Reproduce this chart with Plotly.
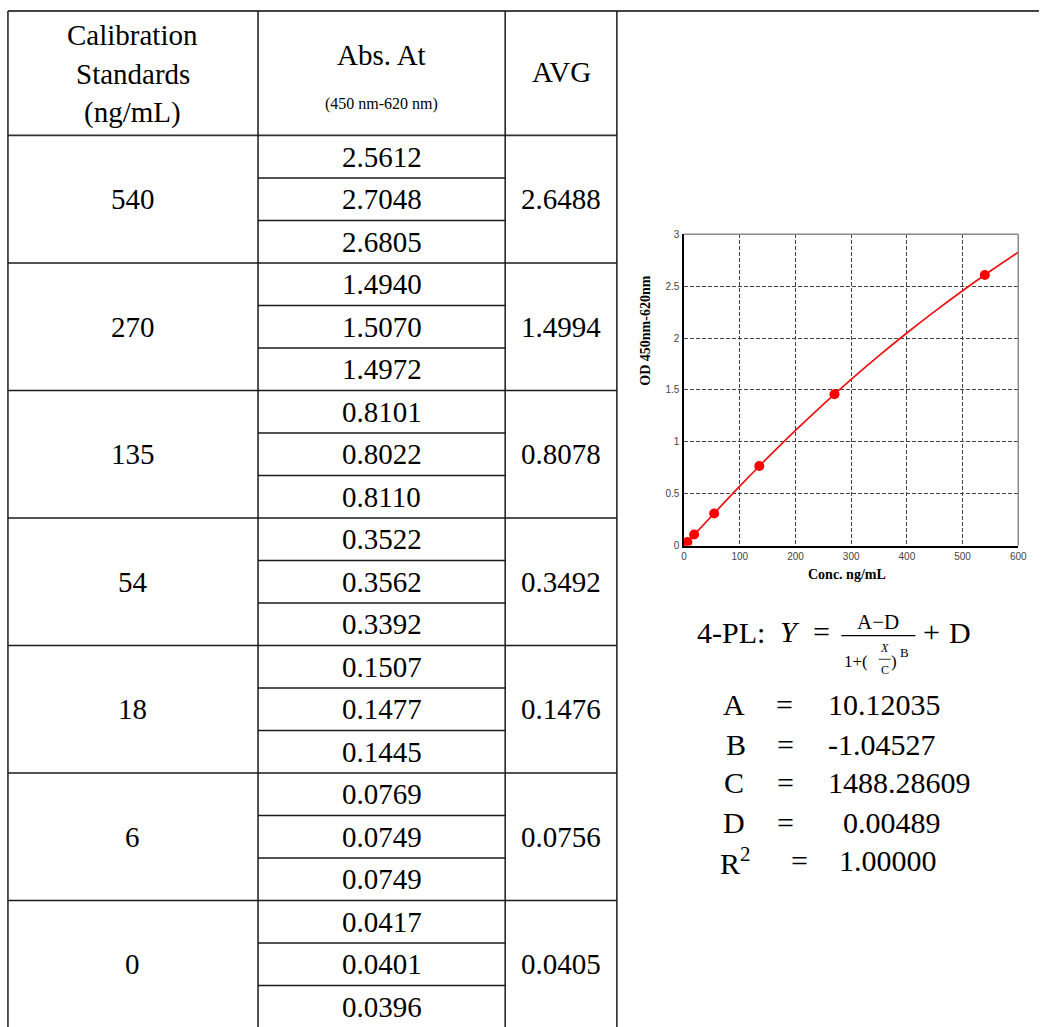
import plotly.graph_objects as go

# ---------------- data ----------------
conc_levels = [540, 270, 135, 54, 18, 6, 0]
abs_reads = [
    [2.5612, 2.7048, 2.6805],
    [1.4940, 1.5070, 1.4972],
    [0.8101, 0.8022, 0.8110],
    [0.3522, 0.3562, 0.3392],
    [0.1507, 0.1477, 0.1445],
    [0.0769, 0.0749, 0.0749],
    [0.0417, 0.0401, 0.0396],
]
avg_vals = [2.6488, 1.4994, 0.8078, 0.3492, 0.1476, 0.0756, 0.0405]

# points drawn on the standard curve
plot_conc = [0, 6, 18, 54, 135, 270, 540]
plot_od = [0.0, 0.035, 0.107, 0.309, 0.767, 1.459, 2.608]

# fitted curve
curve_x = [0, 10, 25, 50, 100, 150, 200, 250, 300, 350, 400, 450, 500, 550, 600]
curve_y = [0.005, 0.059, 0.144, 0.288, 0.573, 0.847, 1.110, 1.362, 1.602,
           1.831, 2.049, 2.257, 2.456, 2.646, 2.827]

x_ticks = [0, 100, 200, 300, 400, 500, 600]
y_ticks = [0, 0.5, 1, 1.5, 2, 2.5, 3]

param_names = ["A", "B", "C", "D", "R<sup>2</sup>"]
param_values = ["10.12035", "-1.04527", "1488.28609", "0.00489", "1.00000"]

header_col1 = ["Calibration", "Standards", "(ng/mL)"]
header_col2 = "Abs. At"
header_col2_sub = "(450 nm-620 nm)"
header_col3 = "AVG"

# ---------------- layout constants (pixels) ----------------
W, H = 1048, 1027
SERIF = "Liberation Serif, Times New Roman, serif"
SANS = "Liberation Sans, Arial, sans-serif"
LINE = "#1a1a1a"


def X(p):
    return p / W


def Y(p):
    return 1 - p / H


COL = [5, 258, 508, 621]
TOP = 5
HEAD_BOT = 131
SUB_H = 43
GROUP_H = 3 * SUB_H

PLOT_L, PLOT_R, PLOT_T, PLOT_B = 689, 1027, 231, 546

fig = go.Figure()

fig.add_trace(go.Scatter(
    x=curve_x, y=curve_y, mode="lines", line=dict(color="#ee1111", width=1.7, shape="spline"),
    hoverinfo="skip", showlegend=False))
fig.add_trace(go.Scatter(
    x=plot_conc, y=plot_od, mode="markers",
    marker=dict(color="#ff0000", size=10, line=dict(width=0)),
    showlegend=False))

shapes = []
annotations = []


def hline(x0, x1, y, color=LINE, width=1.5):
    shapes.append(dict(type="line", xref="paper", yref="paper", x0=X(x0), x1=X(x1),
                       y0=Y(y), y1=Y(y), line=dict(color=color, width=width)))


def vline(x, y0, y1, color=LINE, width=1.5):
    shapes.append(dict(type="line", xref="paper", yref="paper", x0=X(x), x1=X(x),
                       y0=Y(y0), y1=Y(y1), line=dict(color=color, width=width)))


def text(s, x, y, size=29, xanchor="center", family=SERIF, color="#000", angle=0):
    annotations.append(dict(text=s, x=X(x), y=Y(y), xref="paper", yref="paper",
                            xanchor=xanchor, yanchor="middle", showarrow=False,
                            textangle=angle,
                            font=dict(family=family, size=size, color=color)))


# ---- table lines ----
BOTTOM = HEAD_BOT + len(conc_levels) * GROUP_H
hline(COL[0], W, TOP, color="#444", width=2)
hline(COL[0], COL[3], HEAD_BOT, color="#333", width=1.8)
for c in COL:
    vline(c, TOP, BOTTOM)
for g in range(len(conc_levels)):
    gtop = HEAD_BOT + g * GROUP_H
    if g > 0:
        hline(COL[0], COL[3], gtop)
    for k in (1, 2):
        hline(COL[1], COL[2], gtop + k * SUB_H)
hline(COL[0], COL[3], BOTTOM)

# ---- table text ----
c1 = (COL[0] + COL[1]) / 2
c2 = (COL[1] + COL[2]) / 2
c3 = (COL[2] + COL[3]) / 2
for i, s in enumerate(header_col1):
    text(s, c1, 29 + i * 39.5)
text(header_col2, c2, 50)
text(header_col2_sub, c2, 99, size=16)
text(header_col3, c3, 67)

for g, conc in enumerate(conc_levels):
    gtop = HEAD_BOT + g * GROUP_H
    text(str(conc), c1, gtop + GROUP_H / 2)
    for k, v in enumerate(abs_reads[g]):
        text(f"{v:.4f}", c2, gtop + SUB_H / 2 + k * SUB_H)
    text(f"{avg_vals[g]:.4f}", c3, gtop + GROUP_H / 2)

# ---- chart frame (top & right in grey) ----
shapes.append(dict(type="line", xref="x domain", yref="y domain", x0=0, x1=1, y0=1, y1=1,
                   line=dict(color="#8a8a8a", width=1.5)))
shapes.append(dict(type="line", xref="x domain", yref="y domain", x0=1, x1=1, y0=0, y1=1,
                   line=dict(color="#8a8a8a", width=1.5)))

# axis titles
text("<b>Conc. ng/mL</b>", (PLOT_L + PLOT_R) / 2 - 4, 575, size=14)
text("<b>OD 450nm-620nm</b>", 650, 329, size=14, angle=-90)

# ---- 4-PL formula ----
FY = 634
text("4-PL:", 736, FY, size=30)
text("<i>Y</i>", 796, FY - 1, size=30)
text("=", 828, FY - 1, size=30)
text("A\u2212D", 885, 623, size=21)
hline(848, 923, 637, color="#000", width=1.2)
text("1+(", 863, 663, size=17)
text("<i>X</i>", 892, 650, size=12)
hline(886, 898, 661, color="#000", width=0.8)
text("C", 892, 672, size=12)
text(")", 901, 663, size=17)
text("B", 912, 654, size=13)
text("+", 939, FY - 1, size=30)
text("D", 968, FY, size=30)

# ---- parameters ----
row_y = [707, 747, 786, 826, 865]
lab_x = [739, 741, 739, 739, 741]
eq_x = [791, 792, 792, 792, 806]
val_x = [833, 833, 833, 848, 844]
for i in range(len(param_names)):
    text(param_names[i], lab_x[i], row_y[i], size=30)
    text("=", eq_x[i], row_y[i], size=30)
    text(param_values[i], val_x[i], row_y[i], size=30, xanchor="left")

axis_common = dict(
    showgrid=True, gridcolor="#444", gridwidth=1, griddash="4px,2px",
    showline=True, linecolor="#000", linewidth=1.5, zeroline=False,
    ticks="", tickfont=dict(family=SANS, size=10, color="#444"),
    fixedrange=True,
)

fig.update_layout(
    width=W, height=H, margin=dict(l=0, r=0, t=0, b=0),
    paper_bgcolor="white", plot_bgcolor="white", showlegend=False,
    xaxis=dict(domain=[X(PLOT_L), X(PLOT_R)], range=[0, 600], tickvals=x_ticks,
               ticklabelstandoff=1, **axis_common),
    yaxis=dict(domain=[Y(PLOT_B), Y(PLOT_T)], range=[0, 3], tickvals=y_ticks,
               ticklabelstandoff=1, **axis_common),
    shapes=shapes, annotations=annotations,
)

fig.write_html("out.html", config={"displayModeBar": False},
               post_script="document.body.style.margin='0';")
